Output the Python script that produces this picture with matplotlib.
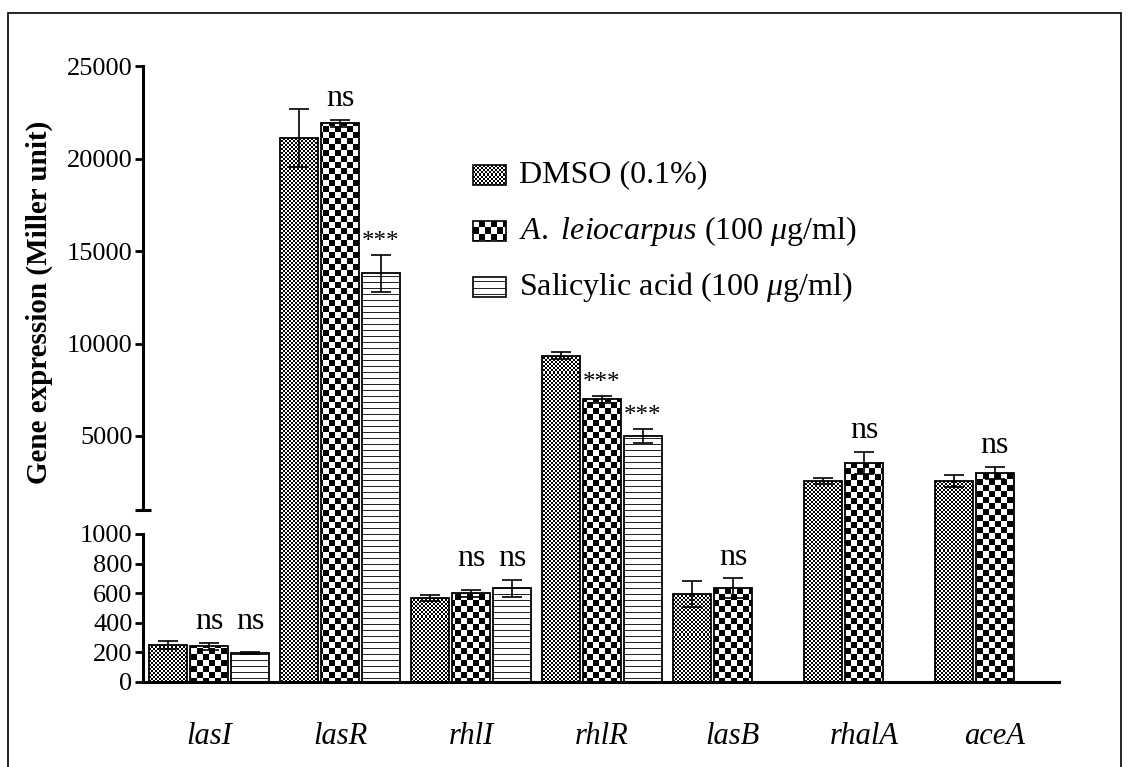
import numpy as np
import matplotlib
matplotlib.use("Agg")
import matplotlib.pyplot as plt
import matplotlib.transforms as mtransforms
from matplotlib.patches import Rectangle
from matplotlib.ticker import NullLocator

plt.rcParams["font.family"] = ["Liberation Serif", "DejaVu Serif"]
plt.rcParams["mathtext.fontset"] = "custom"
plt.rcParams["mathtext.rm"] = "Liberation Serif"
plt.rcParams["mathtext.it"] = "Liberation Serif:italic"

# ── data ─────────────────────────────────────────────────────────────────────
genes = ["lasI", "lasR", "rhlI", "rhlR", "lasB", "rhalA", "aceA"]
series = ["DMSO (0.1%)",
          r"$\it{A.}$ $\it{leiocarpus}$ (100 $\mu$g/ml)",
          r"Salicylic acid (100 $\mu$g/ml)"]

dmso      = [250, 21100, 570, 9350, 595, 2580, 2580]
dmso_err  = [25, 1550, 20, 180, 85, 150, 330]
aleio     = [240, 21900, 598, 6980, 635, 3520, 3010]
aleio_err = [22, 200, 27, 200, 65, 600, 320]
sa        = [195, 13800, 632, 4980, np.nan, np.nan, np.nan]
sa_err    = [8, 1000, 57, 380, np.nan, np.nan, np.nan]

sig_aleio = ["ns", "ns", "ns", "***", "ns", "ns", "ns"]
sig_sa    = ["ns", "***", "ns", "***", "", "", ""]

yticks = [0, 200, 400, 600, 800, 1000, 5000, 10000, 15000, 20000, 25000]

# ── broken y scale: 0-1000 stretched, gap, then 1000-25000 ─────────────────
BRK = 1000.0
LOW_H = 148.0
GAP = 24.0
UP = 444.0 / 24000.0


def fwd(v):
    v = np.asarray(v, dtype=float)
    return np.where(v <= BRK, v * LOW_H / BRK, LOW_H + GAP + (v - BRK) * UP)


def inv(p):
    p = np.asarray(p, dtype=float)
    return np.where(p <= LOW_H, p * BRK / LOW_H,
                    np.where(p < LOW_H + GAP, BRK, BRK + (p - LOW_H - GAP) / UP))


# ── fill patterns (pixel sized) ──────────────────────────────────────────────
H, W = 616, 916
yy, xx = np.mgrid[0:H, 0:W]
fine = ((xx // 2 + yy // 2) % 2).astype(float)
coarse = ((xx // 6 + yy // 6) % 2).astype(float)
hlines = np.where(yy % 6 == 0, 0.15, 1.0)
patterns = [fine, coarse, hlines]

fig = plt.figure(figsize=(11.31, 7.67), dpi=100)
ax = fig.add_axes([143 / 1131, 85 / 767, 916 / 1131, 616 / 767])
ax.set_yscale("function", functions=(fwd, inv))


def pattern_fill(patch, pat):
    im = ax.imshow(pat, cmap="gray", vmin=0, vmax=1, extent=(0, 1, 0, 1),
                   transform=ax.transAxes, aspect="auto",
                   interpolation="nearest", zorder=2)
    im.set_clip_path(patch)


x = np.arange(len(genes))
bw = 0.286
offs = [-0.313, 0.0, 0.313]
vals = [dmso, aleio, sa]
errs = [dmso_err, aleio_err, sa_err]

for k in range(3):
    v = np.array(vals[k], dtype=float)
    e = np.array(errs[k], dtype=float)
    ok = ~np.isnan(v)
    bars = ax.bar(x[ok] + offs[k], v[ok], width=bw, facecolor="none",
                  edgecolor="black", linewidth=1.3, zorder=3)
    for b in bars:
        pattern_fill(b, patterns[k])
    ax.errorbar(x[ok] + offs[k], v[ok], yerr=e[ok], fmt="none", ecolor="black",
                elinewidth=1.2, capsize=7, capthick=1.2, zorder=4)

# significance marks
for i in range(len(genes)):
    top_a = aleio[i] + aleio_err[i]
    top_s = sa[i] + sa_err[i] if not np.isnan(sa[i]) else np.nan
    if sig_aleio[i] == "ns" and sig_sa[i] == "ns":
        top_a = top_s = max(top_a, top_s)
    for lab, xpos, top in [(sig_aleio[i], x[i] + offs[1], top_a),
                           (sig_sa[i], x[i] + offs[2], top_s)]:
        if not lab:
            continue
        if lab == "ns":
            ax.annotate(lab, (xpos, top), xytext=(0, 10), textcoords="offset points",
                        ha="center", va="baseline", fontsize=23)
        else:
            ax.annotate(lab, (xpos, top), xytext=(0, 5), textcoords="offset points",
                        ha="center", va="baseline", fontsize=18)

# ── axes styling ─────────────────────────────────────────────────────────────
for s in ["top", "right", "left"]:
    ax.spines[s].set_visible(False)
ax.spines["bottom"].set_linewidth(2.2)

ax.set_yticks(yticks)
ax.set_yticklabels([str(t) for t in yticks], fontsize=19)
ax.yaxis.set_minor_locator(NullLocator())
ax.tick_params(axis="y", length=6, width=2, pad=1.5)
ax.set_xticks(x)
ax.set_xticklabels(genes, fontsize=22, style="italic")
ax.tick_params(axis="x", length=0, pad=29)

# two segments of the y axis
trans = mtransforms.blended_transform_factory(ax.transAxes, ax.transData)
ax.plot([0, 0], [0, BRK], transform=trans, color="black", lw=2.2,
        clip_on=False, solid_capstyle="projecting", zorder=5)
ax.plot([0, 0], [BRK + 0.01, 25000], transform=trans, color="black", lw=2.2,
        clip_on=False, solid_capstyle="projecting", zorder=5)
ax.plot([0], [BRK + 0.01], transform=trans, marker="_", markersize=11,
        markeredgewidth=2.2, color="black", clip_on=False, zorder=5)

ax.set_ylabel("Gene expression (Miller unit)", fontsize=21, fontweight="bold")
ax.yaxis.set_label_coords(-0.098, 0.617)

# legend drawn by hand so the patterns show
for k, lab in enumerate(series):
    yc = 0.823 - k * 0.0909
    r = Rectangle((0.3603, yc - 0.0162), 0.036, 0.0325, transform=ax.transAxes,
                  facecolor="none", edgecolor="black", lw=1.2, zorder=3)
    ax.add_patch(r)
    pattern_fill(r, patterns[k])
    ax.text(0.4105, yc, lab, transform=ax.transAxes, fontsize=23, va="center")

ax.set_ylim(0, 25000)
ax.set_xlim(-0.504, 6.489)

# outer frame
fig.add_artist(Rectangle((8 / 1131, -0.1), 1113 / 1131, 1.083, transform=fig.transFigure,
                         fill=False, lw=1.2, edgecolor="black"))

fig.savefig("out.png", dpi=100)
